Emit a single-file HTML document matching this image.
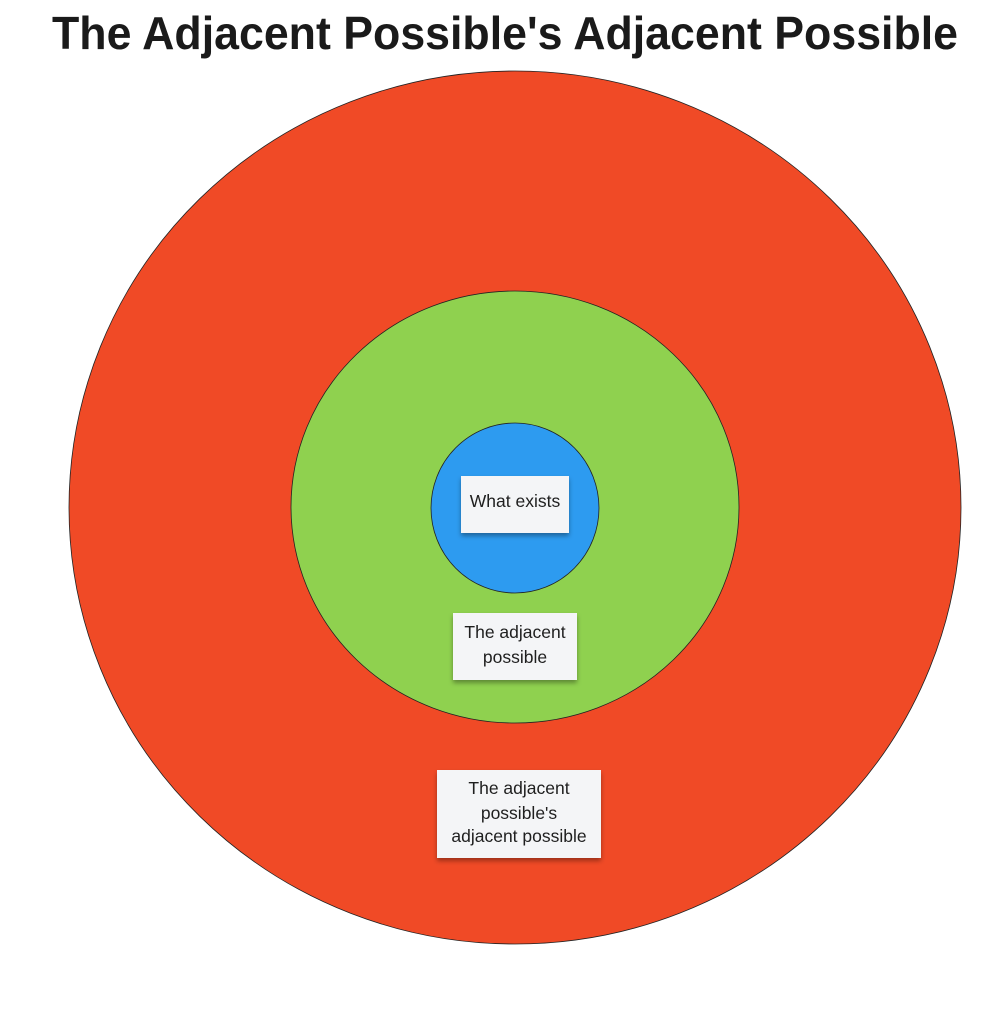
<!DOCTYPE html>
<html><head><meta charset="utf-8"><style>
html,body{margin:0;padding:0;background:#fff;}
svg{display:block}
text{font-family:"Liberation Sans",sans-serif;}
</style></head><body>
<svg width="1008" height="1023" viewBox="0 0 1008 1023">
<defs>
<filter id="sh" x="-20%" y="-20%" width="140%" height="160%">
<feDropShadow dx="0" dy="3" stdDeviation="2.5" flood-color="#000" flood-opacity="0.35"/>
</filter>
</defs>
<text x="505" y="49" text-anchor="middle" font-size="46" font-weight="bold" fill="#1a1a1a" textLength="906" lengthAdjust="spacingAndGlyphs">The Adjacent Possible's Adjacent Possible</text>
<ellipse cx="515" cy="507.5" rx="446" ry="436.5" fill="#f04a26" stroke="#222" stroke-width="0.8"/>
<ellipse cx="515" cy="507" rx="224" ry="216" fill="#8fd14f" stroke="#222" stroke-width="0.8"/>
<ellipse cx="515" cy="508" rx="84" ry="85" fill="#2d9bf0" stroke="#222" stroke-width="0.8"/>
<g filter="url(#sh)">
<rect x="461" y="476" width="108" height="57" fill="#f4f5f7"/>
<rect x="453" y="613" width="124" height="67" fill="#f4f5f7"/>
<rect x="437" y="770" width="164" height="88" fill="#f4f5f7"/>
</g>
<g font-size="17.5" fill="#1f1f1f" text-anchor="middle">
<text x="515" y="507">What exists</text>
<text x="515" y="638">The adjacent</text>
<text x="515" y="663">possible</text>
<text x="519" y="794">The adjacent</text>
<text x="519" y="819">possible's</text>
<text x="519" y="842">adjacent possible</text>
</g>
</svg>
</body></html>
